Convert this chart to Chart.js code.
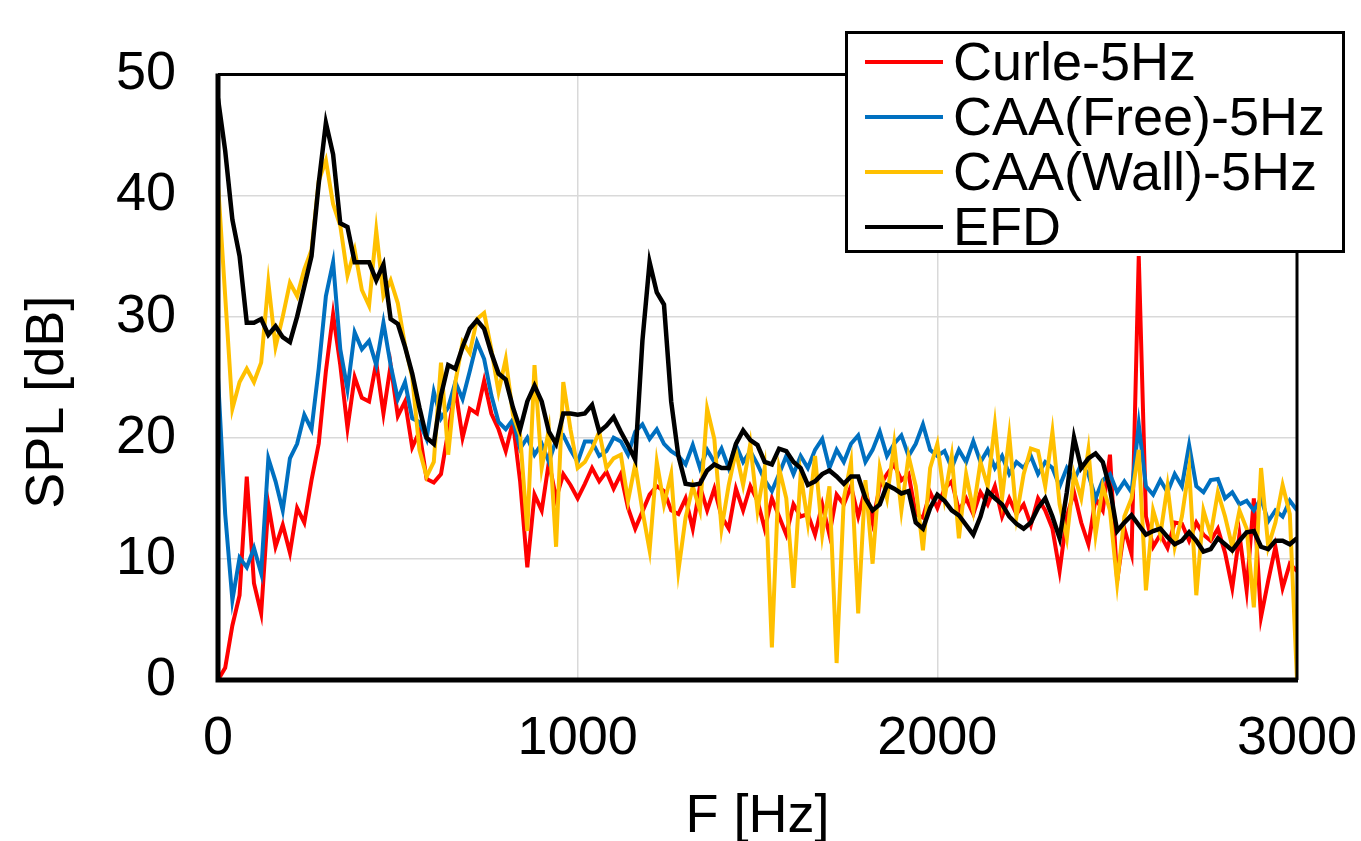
<!DOCTYPE html>
<html>
<head>
<meta charset="utf-8">
<title>SPL spectrum</title>
<script src="https://cdn.jsdelivr.net/npm/chart.js@4.4.1/dist/chart.umd.min.js"></script>
<style>
  body { margin: 0; background: #fff; }
  #wrap { position: relative; width: 1361px; height: 841px; }
  #legend {
    position: absolute; left: 845px; top: 31px; width: 494px; height: 216px;
    border: 3px solid #000; background: #fff;
    font-family: 'Liberation Sans', Arial, sans-serif; font-size: 54px; color: #000;
  }
  .legend-row { position: relative; height: 55px; line-height: 55px; padding-left: 105px; white-space: nowrap; }
  .legend-line { position: absolute; left: 17px; top: 26px; width: 78px; height: 4px; }
</style>
</head>
<body>
<div id="wrap">
  <canvas id="spl-chart" width="1361" height="841"></canvas>
  <div id="legend"></div>
</div>
<script>
/* ══════════════════════════════════════
   SPL spectrum — Curle / CAA / EFD
   values, 20 Hz grid
══════════════════════════════════════ */

const FONT = "'Liberation Sans', Arial, sans-serif";

const FREQ = [
  0, 20, 40, 60, 80, 100, 120, 140, 160, 180,
  200, 220, 240, 260, 280, 300, 320, 340, 360, 380,
  400, 420, 440, 460, 480, 500, 520, 540, 560, 580,
  600, 620, 640, 660, 680, 700, 720, 740, 760, 780,
  800, 820, 840, 860, 880, 900, 920, 940, 960, 980,
  1000, 1020, 1040, 1060, 1080, 1100, 1120, 1140, 1160, 1180,
  1200, 1220, 1240, 1260, 1280, 1300, 1320, 1340, 1360, 1380,
  1400, 1420, 1440, 1460, 1480, 1500, 1520, 1540, 1560, 1580,
  1600, 1620, 1640, 1660, 1680, 1700, 1720, 1740, 1760, 1780,
  1800, 1820, 1840, 1860, 1880, 1900, 1920, 1940, 1960, 1980,
  2000, 2020, 2040, 2060, 2080, 2100, 2120, 2140, 2160, 2180,
  2200, 2220, 2240, 2260, 2280, 2300, 2320, 2340, 2360, 2380,
  2400, 2420, 2440, 2460, 2480, 2500, 2520, 2540, 2560, 2580,
  2600, 2620, 2640, 2660, 2680, 2700, 2720, 2740, 2760, 2780,
  2800, 2820, 2840, 2860, 2880, 2900, 2920, 2940, 2960, 2980,
  3000
];

const CURLE = [
  0, 1, 4.5, 7, 16.8, 8, 5.5, 14.5, 11, 12.8,
  10.5, 14.2, 13, 16.5, 19.5, 25.5, 30.2, 26, 20.8, 25,
  23.3, 23, 26.2, 22, 26, 21.8, 23, 19.2, 20.5, 16.6,
  16.3, 17, 20.5, 24, 20, 22.4, 22, 24.7, 22, 20.7,
  18.9, 21.3, 16.4, 9.3, 15.3, 14, 18, 15, 17, 16.1,
  15, 16.2, 17.5, 16.4, 17.2, 15.8, 17, 14.2, 12.5, 13.9,
  15.3, 16, 15.6, 14, 13.7, 15, 12.5, 16, 14, 15.8,
  13.5, 12.5, 15.8, 14, 16, 14.8, 12.5, 15, 13.5, 12,
  14.5, 13.5, 13.7, 12, 14.5, 12, 15.3, 14.5, 16, 13.5,
  15.8, 13, 16, 17, 17.8, 16.5, 17, 13.7, 13.4, 15.5,
  14.2, 15.8, 16.4, 14, 15, 13.7, 15.5, 14.5, 16, 13.5,
  15, 13.7, 14.5, 12.8, 15, 14, 12.5, 9, 13.5, 15.5,
  13, 11.2, 15, 14, 18.6, 8.2, 12.5, 10.4, 35, 13.5,
  11, 12, 10.9, 13, 12.9, 11.5, 13, 12, 11.5, 12.5,
  10.5, 7.6, 12, 7.4, 15, 5.2, 8.2, 11, 7.6, 9.6,
  9
];

const CAA_FREE = [
  25, 13.7, 6.6, 10.1, 9.3, 10.9, 8.8, 18.3, 16.4, 14,
  18.3, 19.5, 21.9, 20.7, 25.7, 31.7, 34.5, 27.3, 24, 28.7,
  27.3, 28, 26, 29.5, 26, 23.2, 24.6, 21.6, 21.3, 19.9,
  23.8, 21.6, 22.5, 24.6, 23.2, 25.5, 27.9, 26.5, 23.5, 21.3,
  20.7, 21.5, 19.1, 20, 18.6, 19.5, 18, 19.8, 20.2, 19,
  18, 19.7, 19.7, 18.5, 18.9, 20, 19.7, 18.6, 20.5, 21.1,
  19.9, 20.7, 19.5, 18.9, 18.5, 17.8, 19.4, 17.5, 19, 18,
  19.1, 17.5, 19.4, 18, 18.9, 17.8, 16.5, 15.6, 17, 18.5,
  17, 18.5, 17.5, 19, 19.9, 17.5, 19, 18, 19.5, 20.2,
  18, 19, 20.5, 18.5, 19.5, 20.2, 18.5, 19.5, 21.1, 19,
  18.5, 18.9, 17.5, 19, 18, 19.7, 18, 19, 17.5, 18.5,
  17, 18, 17.5, 18.5, 17, 18, 17.5, 16, 17.5, 16.5,
  17.8, 17, 15, 16.5, 17, 15.5, 16.4, 15.5, 21.1, 16,
  15.3, 16.5, 15.5, 17, 16, 19.4, 16, 15.5, 16.5, 16.6,
  15, 15.5, 14.5, 14.8, 14, 15, 13.1, 14, 13.5, 14.8,
  14
];

const CAA_WALL = [
  41, 31.7, 22.4, 24.6, 25.7, 24.6, 26.2, 32.8, 27.5, 30,
  32.8, 31.7, 33.9, 35.5, 41.2, 42.9, 39.3, 37.5, 33.4, 35.5,
  32.2, 30.9, 37.1, 31.7, 33, 31.1, 27.6, 25, 19, 16.8,
  18, 26.2, 18.6, 24.6, 27.9, 27, 29.8, 30.3, 27.3, 23.8,
  26.5, 21.9, 20.2, 12.3, 26, 17.5, 20.7, 11, 24.6, 20.7,
  17.5, 18, 19.1, 20.5, 17.5, 18.3, 18.6, 14.8, 17.8, 14,
  10.7, 18, 14.5, 17, 9, 13.4, 16, 14, 22.4, 19.9,
  12.5, 16.1, 18.9, 16.1, 19.5, 14, 17.5, 2.7, 17.5, 15,
  7.6, 17, 13, 18.5, 12, 16, 1.4, 15, 18, 5.5,
  16.5, 9.6, 17.5, 15, 19.5, 14, 18.5, 16, 10.7, 17.5,
  19.5, 15, 18.5, 11.7, 17, 14, 18, 16, 21.1, 15,
  20.2, 13.5, 17, 19.1, 18.9, 16, 20.5, 14.5, 11.7, 17,
  15, 19, 12, 16, 14, 8, 13.5, 15, 19, 7.4,
  14, 12, 16, 11, 13.5, 17.5, 7, 14, 12, 15.5,
  13.5, 11, 14, 12.5, 6, 17.5, 11, 13, 16.1, 13.7,
  0
];

const EFD = [
  48, 43.7, 38, 35, 29.5, 29.5, 29.8, 28.5, 29.2, 28.3,
  27.9, 30, 32.5, 35, 41, 46, 43.4, 37.7, 37.4, 34.5,
  34.5, 34.5, 33, 34.3, 29.8, 29.4, 27.5, 25.3, 22.5, 20,
  19.5, 23.5, 26, 25.7, 27.5, 29, 29.7, 29, 27, 25.3,
  24.8, 22.5, 20.7, 23, 24.3, 23, 20.5, 19.5, 22, 22,
  21.9, 22, 22.7, 20.5, 21, 21.7, 20.5, 19.4, 18.2, 28,
  34.5, 32, 31, 23, 18.5, 16.2, 16.1, 16.2, 17.3, 17.8,
  17.5, 17.5, 19.5, 20.6, 19.8, 19.4, 18, 17.8, 19.1, 18.9,
  18, 17.5, 16.1, 16.4, 17, 17.3, 16.8, 16.2, 16.8, 16.8,
  15, 14, 14.5, 16.1, 15.8, 15.4, 15.6, 13, 12.5, 14.2,
  15.3, 14.8, 14, 13.6, 12.8, 12, 13.5, 15.6, 15, 14.5,
  13.5, 12.9, 12.5, 13, 14.2, 15, 13.5, 11.7, 15.5, 20,
  17.5, 18.3, 18.7, 18, 15.8, 12.3, 13, 13.6, 12.8, 12,
  12.3, 12.5, 11.8, 11.2, 11.5, 12.2, 11.5, 10.6, 10.8, 11.7,
  11.2, 10.7, 11.5, 12.2, 12.3, 11, 10.8, 11.5, 11.5, 11.2,
  11.7
];

const SERIES_NAMES  = ['Curle-5Hz', 'CAA(Free)-5Hz', 'CAA(Wall)-5Hz', 'EFD'];
const SERIES_COLORS = ['#ff0000', '#0070c0', '#ffc000', '#000000'];
const SERIES_DATA   = [CURLE, CAA_FREE, CAA_WALL, EFD];

const X_TICKS = [0, 1000, 2000, 3000];
const Y_TICKS = [0, 10, 20, 30, 40, 50];
const Y_TITLE = 'SPL [dB]';

// ── Frame round the plot area + y title ──
const framePlugin = {
  id: 'frame',
  afterDatasetsDraw: function(chart) {
    var a   = chart.chartArea;
    var ctx = chart.ctx;
    ctx.save();
    ctx.strokeStyle = '#000';
    ctx.lineWidth = 3;
    ctx.beginPath();
    ctx.moveTo(a.left, a.top);
    ctx.lineTo(a.right, a.top);
    ctx.lineTo(a.right, a.bottom);
    ctx.stroke();
    ctx.lineWidth = 5;
    ctx.beginPath();
    ctx.moveTo(a.left, a.top - 1);
    ctx.lineTo(a.left, a.bottom);
    ctx.lineTo(a.right + 1, a.bottom);
    ctx.stroke();

    // y title sits a little below the plot's middle in the original
    ctx.translate(48, (a.top + a.bottom) / 2 + 25);
    ctx.rotate(-Math.PI / 2);
    ctx.fillStyle = '#000';
    ctx.font = '54px ' + FONT;
    ctx.textAlign = 'center';
    ctx.textBaseline = 'middle';
    ctx.fillText(Y_TITLE, 0, 0);
    ctx.restore();
  },
};

// ── Build datasets ──
function buildDatasets() {
  return SERIES_DATA.map(function(values, i) {
    return {
      label       : SERIES_NAMES[i],
      data        : values.map(function(v, k) { return { x: FREQ[k], y: v }; }),
      borderColor : SERIES_COLORS[i],
      borderWidth : i === 3 ? 4.5 : 4,
      pointRadius : 0,
      tension     : 0,
      order       : SERIES_DATA.length - 1 - i,   // EFD on top
    };
  });
}

// ── HTML legend box ──
function renderLegend() {
  var box = document.getElementById('legend');
  box.innerHTML = SERIES_NAMES.map(function(name, i) {
    return '<div class="legend-row">'
      + '<span class="legend-line" style="background:' + SERIES_COLORS[i] + '"></span>'
      + name + '</div>';
  }).join('');
}

// ── Draw chart ──
function drawChart() {
  var ctx = document.getElementById('spl-chart').getContext('2d');

  new Chart(ctx, {
    type : 'line',
    data : { datasets: buildDatasets() },
    options : {
      responsive : false,
      animation  : false,
      devicePixelRatio : 1,
      layout  : { padding: { top: 70, right: 64, left: 0, bottom: 0 } },
      plugins : { legend: { display: false }, tooltip: { enabled: false } },
      scales  : {
        x : {
          type : 'linear',
          min  : X_TICKS[0],
          max  : X_TICKS[X_TICKS.length - 1],
          afterBuildTicks : function(scale) {
            scale.ticks = X_TICKS.map(function(v) { return { value: v }; });
          },
          afterFit : function(scale) {
            scale.height = 161;
            scale.paddingLeft = 0;
            scale.paddingRight = 0;
          },
          grid   : { color: '#d9d9d9', lineWidth: 1.5, drawTicks: false },
          border : { display: false },
          ticks  : {
            color       : '#000',
            padding     : 27,
            maxRotation : 0,
            font        : { family: FONT, size: 54 },
            callback    : function(value) { return String(value); },
          },
          title  : {
            display : true,
            text    : 'F [Hz]',
            color   : '#000',
            padding : { top: 18, bottom: -9 },
            font    : { family: FONT, size: 54 },
          },
        },
        y : {
          min : Y_TICKS[0],
          max : Y_TICKS[Y_TICKS.length - 1],
          afterBuildTicks : function(scale) {
            scale.ticks = Y_TICKS.map(function(v) { return { value: v }; });
          },
          afterFit : function(scale) { scale.width = 218; },
          grid   : { color: '#d9d9d9', lineWidth: 1.5, drawTicks: false },
          border : { display: false },
          ticks  : {
            color    : '#000',
            padding  : 42,
            font     : { family: FONT, size: 54 },
            callback : function(value) { return String(value); },
          },
        },
      },
    },
    plugins : [framePlugin],
  });
}

renderLegend();
drawChart();
</script>
</body>
</html>
